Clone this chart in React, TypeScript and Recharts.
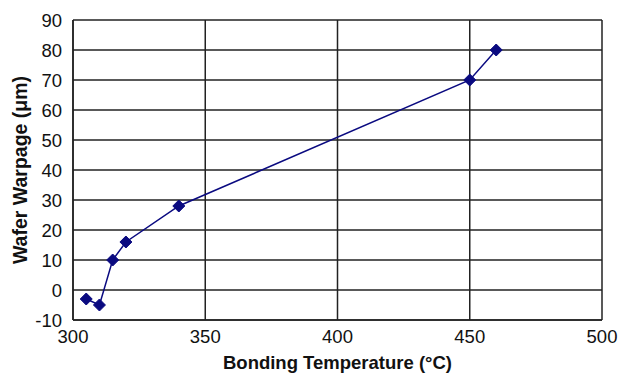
import React from 'react';
import { LineChart, Line, XAxis, YAxis, CartesianGrid, Label } from 'recharts';

const temps = [305, 310, 315, 320, 340, 450, 460];
const warpage = [-3, -5, 10, 16, 28, 70, 80];
const xTicks = [300, 350, 400, 450, 500];
const yTicks = [-10, 0, 10, 20, 30, 40, 50, 60, 70, 80, 90];

const data = temps.map((t, i) => ({ temp: t, warp: warpage[i] }));

const NAVY = '#0a0a80';
const FONT = '"Liberation Sans", Arial, sans-serif';

const Diamond = (props: any) => {
  const { cx, cy, index } = props;
  const r = 6;
  return (
    <path
      key={`d-${index}`}
      d={`M${cx},${cy - r} L${cx + r},${cy} L${cx},${cy + r} L${cx - r},${cy} Z`}
      fill={NAVY}
      stroke={NAVY}
    />
  );
};

export default function App() {
  return (
    <div style={{ position: 'absolute', left: 0, top: 0, background: '#fff' }}>
      <LineChart
        width={621}
        height={374}
        data={data}
        margin={{ top: 20, right: 19, bottom: 0, left: 0 }}
        style={{ fontFamily: FONT }}
      >
        <CartesianGrid stroke="#222" strokeWidth={1.5} />
        <XAxis
          type="number"
          dataKey="temp"
          domain={[300, 500]}
          ticks={xTicks}
          height={54}
          axisLine={{ stroke: '#222', strokeWidth: 1.5 }}
          tickLine={false}
          tickMargin={4}
          tick={{ fontSize: 18.5, fill: '#111' }}
        >
          <Label
            value="Bonding Temperature (°C)"
            position="insideBottom"
            offset={5}
            style={{ fontSize: 18.5, fontWeight: 'bold', fill: '#111' }}
          />
        </XAxis>
        <YAxis
          type="number"
          domain={[-10, 90]}
          ticks={yTicks}
          width={73}
          axisLine={{ stroke: '#222', strokeWidth: 1.5 }}
          tickLine={false}
          tickMargin={5}
          tick={{ fontSize: 18.5, fill: '#111' }}
        >
          <Label
            value="Wafer Warpage (μm)"
            angle={-90}
            position="insideLeft"
            offset={20}
            style={{ fontSize: 19.5, fontWeight: 'bold', fill: '#111', textAnchor: 'middle' }}
          />
        </YAxis>
        <Line
          type="linear"
          dataKey="warp"
          stroke={NAVY}
          strokeWidth={1.5}
          dot={Diamond}
          isAnimationActive={false}
        />
      </LineChart>
    </div>
  );
}
